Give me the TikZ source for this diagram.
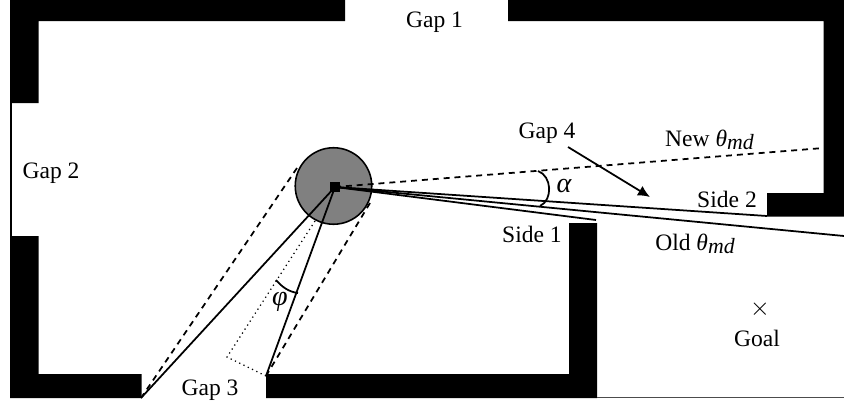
\documentclass[tikz,border=0pt]{standalone}
\usepackage{fontspec}
\setmainfont{Liberation Serif}
\usepackage{amsmath,amssymb}
\usepackage{xcolor}
\definecolor{robotgray}{RGB}{128, 128, 128}
\usepackage{tikz}
\usetikzlibrary{arrows.meta,positioning,calc}
\newcommand{\thetamd}{\textit{θ}\raisebox{-0.3ex}{\fontsize{12.4}{13}\selectfont\textit{md}}}

\begin{document}
\begin{tikzpicture}[
  x=0.2mm, y=-0.2mm,
  wall/.style={fill=black, draw=none},
  label/.style={font=\fontsize{13.4}{16}\selectfont, inner sep=0pt},
  anglelabel/.style={font=\fontsize{16}{18}\selectfont\itshape, inner sep=0pt},
  beam/.style={line width=1pt, color=black},
  widthline/.style={line width=1pt, dash pattern=on 3.4pt off 2.8pt},
  dotline/.style={line width=0.7pt, dotted},
  anglearc/.style={line width=1pt},
  arrow/.style={-{Latex[length=2.4mm,width=2.2mm]}, line width=1pt},
  thinwall/.style={line width=0.5pt, color=black!70}
]
\useasboundingbox (0,0) rectangle (844,406);

% Walls
\fill[wall] (10,0) -- (345,0) -- (345,21) -- (38.5,21) -- (38.5,103) -- (10,103) -- cycle;
\fill[wall] (508,0) -- (844,0) -- (844,216.5) -- (767,216.5) -- (767,193) -- (823.5,193) -- (823.5,21) -- (508,21) -- cycle;
\fill[wall] (10,236) -- (38.5,236) -- (38.5,374) -- (141.5,374) -- (141.5,398) -- (10,398) -- cycle;
\fill[wall] (266,374) -- (569,374) -- (569,223) -- (597,223) -- (597,398) -- (266,398) -- cycle;
\draw[line width=1.2pt] (11,103) -- (11,236);
\draw[thinwall] (597,397.5) -- (844,397.5);

% Corners the lines end on
\coordinate (gapthreeleft) at (141,398);
\coordinate (gapthreeright) at (266,376);
\coordinate (dashleft) at (297,168);
\coordinate (dashright) at (370,203);
\coordinate (dotstart) at (315,221);
\coordinate (dotfoot) at (227,357);
\coordinate (newend) at (823.5,148);
\coordinate (sidetwo) at (767,216);
\coordinate (oldend) at (844,236);
\coordinate (sideone) at (596,220);
\coordinate (arrowstart) at (568,147);
\coordinate (arrowend) at (650,197);
\coordinate (alphatop) at (538,171);
\coordinate (alphabot) at (540,206);
\coordinate (phileft) at (276,280);
\coordinate (phiright) at (298,293);

% Robot
\node[circle, draw=black, fill=robotgray, line width=0.9pt, minimum size=1.53cm, inner sep=0pt] (robot) at (333.5,186) {};
\node[fill=black, minimum size=0.2cm, inner sep=0pt] (sensor) at (335,187) {};

% Lines
\draw[beam] (sensor.center) -- (gapthreeleft);
\draw[beam] (sensor.center) -- (gapthreeright);
\draw[widthline] (dashleft) -- (gapthreeleft);
\draw[widthline] (dashright) -- (gapthreeright);
\draw[dotline] (dotstart) -- (dotfoot) -- (gapthreeright);
\draw[widthline] (sensor.center) -- (newend);
\draw[beam] (sensor.center) -- (sidetwo);
\draw[beam] (sensor.center) -- (oldend);
\draw[beam] (sensor.center) -- (sideone);
\draw[arrow] (arrowstart) -- (arrowend);

% Angles
\draw[anglearc] (alphatop) .. controls (552,176) and (553,200) .. (alphabot);
\draw[anglearc] (phileft) .. controls (282,287) and (289,292) .. (phiright);

% Labels
\node[label] (gapone) at (434.5,22) {Gap 1};
\node[label] (gaptwo) at (51,173) {Gap 2};
\node[label] (gapthree) at (210,390) {Gap 3};
\node[label] (gapfour) at (547,133) {Gap 4};
\node[label] (newtheta) at (709.5,139.5) {New \thetamd};
\node[label] (oldtheta) at (695,243.5) {Old \thetamd};
\node[label] (sidetwolabel) at (727,199) {Side 2};
\node[label] (sideonelabel) at (532,234) {Side 1};
\node[anglelabel] (alphalabel) at (564,186) {α};
\node[anglelabel] (philabel) at (280,302) {φ};
\node[label] (cross) at (760,309) {$\times$};
\node[label] (goal) at (757,338.5) {Goal};

\end{tikzpicture}
\end{document}
